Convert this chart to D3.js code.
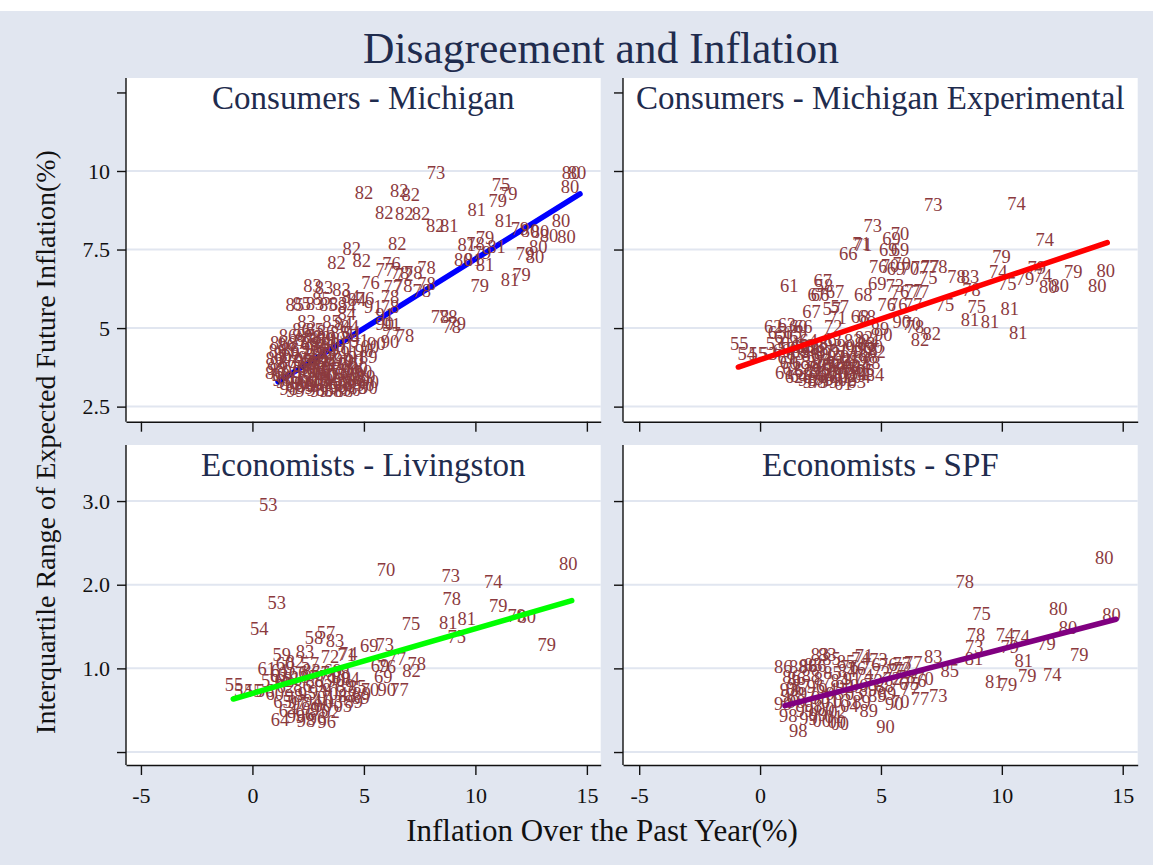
<!DOCTYPE html>
<html>
<head>
<meta charset="utf-8">
<script src="https://cdn.jsdelivr.net/npm/d3@7"></script>
<style>
  body { margin: 0; background: #fff; }
  svg { display: block; font-family: "Liberation Serif", "Times New Roman", serif; }
</style>
</head>
<body>
<div id="chart"></div>
<script>
// ---- data: [inflation over past year, interquartile range, year label] ----
const michigan = [
  [8.23,9.95,"73"],[5.00,9.32,"82"],[6.59,9.37,"82"],[7.10,9.24,"82"],[5.91,8.69,"82"],[6.81,8.66,"82"],[7.56,8.66,"82"],
  [8.20,8.26,"82"],[8.83,8.26,"81"],[10.06,8.76,"81"],[11.15,9.56,"75"],[11.47,9.29,"79"],[11.00,9.06,"79"],
  [14.29,9.95,"80"],[14.56,9.95,"80"],[14.24,9.50,"80"],[11.28,8.42,"81"],[13.84,8.42,"80"],[12.00,8.18,"79"],
  [12.45,8.12,"80"],[12.90,8.07,"80"],[13.30,7.95,"80"],[14.09,7.93,"80"],[12.82,7.61,"80"],[12.67,7.27,"80"],
  [12.22,7.38,"79"],[10.43,7.89,"79"],[9.61,7.65,"81"],[10.00,7.70,"78"],[10.95,7.59,"81"],[9.46,7.17,"80"],
  [10.43,7.01,"81"],[9.90,7.17,"81"],[10.30,7.40,"79"],[10.20,6.37,"79"],[11.55,6.53,"81"],[12.07,6.69,"79"],
  [4.45,7.54,"82"],[6.50,7.68,"82"],[3.77,7.08,"82"],[4.90,7.15,"82"],[6.24,7.06,"76"],[5.94,6.85,"77"],
  [6.62,6.77,"78"],[6.81,6.72,"72"],[7.21,6.77,"78"],[7.81,6.94,"78"],[6.29,6.32,"77"],[6.77,6.37,"78"],
  [7.59,6.21,"78"],[7.81,6.43,"78"],[6.17,6.00,"78"],[6.17,5.68,"78"],[5.42,5.68,"91"],[5.94,5.42,"91"],
  [5.94,5.16,"90"],[6.24,5.10,"91"],[6.24,4.84,"77"],[6.84,4.75,"78"],[5.57,4.52,"90"],[6.17,4.57,"90"],
  [5.20,4.09,"89"],[8.41,5.37,"78"],[8.78,5.37,"78"],[9.16,5.13,"79"],[8.94,5.05,"78"],
  [2.70,6.37,"83"],[3.21,6.30,"83"],[4.00,6.24,"83"],[2.21,5.79,"85"],[2.81,5.77,"83"],[3.40,5.74,"85"],
  [3.85,5.79,"83"],[4.23,5.68,"84"],[4.68,5.90,"84"],[5.05,5.95,"76"],[4.23,5.47,"84"],[2.43,5.21,"83"],
  [3.55,5.21,"85"],[4.07,5.16,"84"],[4.37,5.05,"84"],[1.90,5.75,"85"],[3.10,5.95,"85"],[4.40,6.00,"84"],
  [5.30,6.45,"76"],
  [1.00,4.02,"86"],[1.08,3.72,"98"],[1.18,3.88,"86"],[1.27,3.52,"98"],[0.98,3.58,"86"],[1.36,4.16,"86"],
  [1.47,3.31,"99"],[1.58,3.94,"87"],[1.69,4.33,"86"],[1.78,3.61,"98"],[1.88,3.22,"99"],[1.53,4.47,"86"],
  [1.74,4.08,"02"],[1.84,3.43,"02"],[1.99,3.77,"98"],[2.02,4.54,"87"],[1.31,3.36,"98"],[1.14,4.27,"86"],
  [1.63,3.07,"98"],[1.93,3.01,"99"],[2.12,4.23,"87"],[2.19,3.46,"95"],[2.27,3.92,"97"],[2.31,4.64,"87"],
  [2.34,3.12,"99"],[2.42,3.66,"96"],[2.47,4.07,"94"],[2.52,3.29,"00"],[2.58,4.38,"95"],[2.61,3.86,"97"],
  [2.67,3.56,"01"],[2.71,4.73,"88"],[2.76,3.21,"99"],[2.82,4.16,"93"],[2.86,3.76,"96"],[2.92,3.41,"03"],
  [2.96,4.47,"94"],[3.01,3.02,"99"],[3.03,3.97,"92"],[3.07,3.61,"00"],[3.12,4.27,"93"],[3.16,3.26,"04"],
  [3.22,3.81,"96"],[3.27,4.62,"89"],[3.31,3.52,"00"],[3.37,4.07,"92"],[3.41,3.16,"05"],[3.47,4.37,"91"],
  [3.52,3.72,"97"],[2.16,3.27,"98"],[2.29,4.01,"95"],[2.44,3.17,"99"],[2.59,4.52,"88"],[2.69,3.96,"94"],
  [2.84,3.06,"98"],[2.94,3.62,"96"],[3.09,4.71,"88"],[3.19,3.37,"01"],[3.29,4.21,"93"],[3.44,3.47,"02"],
  [2.39,4.77,"87"],[2.54,3.71,"96"],[2.74,4.36,"95"],[2.89,3.91,"95"],[3.04,3.31,"03"],[3.24,3.06,"05"],
  [3.34,3.91,"94"],[3.49,4.52,"90"],[3.58,4.11,"92"],[3.64,3.36,"05"],[3.71,3.86,"91"],[3.76,4.66,"90"],
  [3.81,3.51,"04"],[3.86,3.11,"90"],[3.91,4.31,"91"],[3.96,3.71,"89"],[4.01,3.31,"89"],[4.06,4.01,"90"],
  [4.11,3.56,"89"],[4.16,4.46,"91"],[4.21,3.16,"88"],[4.26,3.86,"90"],[4.31,3.41,"89"],[4.36,4.21,"91"],
  [4.41,3.66,"90"],[4.51,3.26,"89"],[4.56,3.96,"90"],[4.61,3.51,"89"],[4.71,3.11,"88"],[4.76,3.76,"90"],
  [4.86,3.36,"89"],[4.96,3.61,"90"],[5.06,3.21,"90"],[5.11,3.46,"89"],[5.21,3.11,"90"],[5.26,3.31,"90"],
  [3.61,3.01,"88"],[4.11,3.00,"88"],[4.46,3.05,"90"],[4.50,4.85,"91"],[4.80,4.60,"91"],[5.00,4.30,"90"],
  [5.27,4.41,"00"],[4.70,4.05,"91"],[4.40,4.70,"84"],[3.90,4.85,"85"],[3.30,4.90,"86"],[2.20,4.95,"86"],
  [1.60,4.75,"86"],[1.20,4.55,"86"],[2.80,4.95,"85"]
];

const michExp = [
  [7.16,8.92,"73"],[10.61,8.97,"74"],[4.66,8.28,"73"],[5.79,8.02,"70"],[5.44,7.86,"69"],[4.20,7.68,"71"],
  [4.26,7.66,"71"],[3.65,7.38,"66"],[5.30,7.49,"69"],[5.79,7.49,"69"],[11.78,7.81,"74"],[9.99,7.27,"79"],
  [4.89,6.96,"76"],[5.37,6.98,"70"],[5.86,7.06,"70"],[5.62,6.91,"69"],[6.20,6.91,"70"],[6.61,6.94,"77"],
  [7.03,6.96,"77"],[7.37,6.96,"78"],[6.96,6.62,"75"],[8.13,6.64,"78"],[8.68,6.64,"83"],[8.75,6.24,"78"],
  [9.85,6.80,"74"],[10.22,6.43,"75"],[10.96,6.59,"79"],[11.44,6.94,"79"],[11.69,6.66,"74"],[11.92,6.32,"80"],
  [12.40,6.37,"80"],[12.95,6.80,"79"],[14.30,6.83,"80"],[13.95,6.37,"80"],
  [8.96,5.68,"75"],[10.33,5.63,"81"],[8.68,5.26,"81"],[9.51,5.21,"81"],[10.68,4.86,"81"],[7.65,5.74,"75"],
  [1.21,6.34,"61"],[2.59,6.51,"67"],[2.64,6.37,"58"],[2.34,6.06,"67"],[2.48,6.06,"66"],[3.10,6.16,"67"],
  [4.27,6.06,"68"],[4.85,6.43,"69"],[5.58,6.34,"73"],[5.79,6.16,"76"],[6.34,6.21,"77"],[6.61,6.16,"77"],
  [5.24,5.74,"76"],[5.72,5.74,"76"],[6.34,5.74,"77"],[2.13,5.52,"67"],[2.96,5.63,"57"],[3.30,5.68,"57"],
  [3.03,5.05,"72"],[3.20,5.35,"71"],[4.13,5.37,"68"],[4.41,5.37,"68"],[5.86,5.21,"90"],[6.27,5.16,"70"],
  [6.41,5.05,"78"],[6.61,4.62,"82"],[7.10,4.84,"82"],[5.10,4.78,"90"],[4.96,5.00,"89"],
  [-0.86,4.50,"55"],[-0.55,4.18,"54"],[0.62,4.52,"53"],[0.34,4.18,"53"],[-0.10,4.20,"55"],
  [0.55,5.05,"62"],[1.10,5.10,"63"],[1.58,5.05,"60"],[1.79,5.05,"66"],[0.96,4.73,"61"],[1.24,4.52,"64"],
  [1.58,4.73,"62"],[1.10,4.36,"59"],[1.65,4.41,"62"],[1.93,4.31,"60"],[0.70,4.85,"65"],[1.35,4.85,"65"],
  [4.06,3.58,"84"],[4.75,3.51,"84"],[4.82,4.25,"82"],[4.41,4.36,"92"],
  [0.90,4.30,"60"],[1.10,4.05,"61"],[1.30,3.70,"62"],[1.45,4.20,"63"],[1.60,3.50,"64"],[1.70,3.90,"65"],
  [1.85,4.45,"66"],[1.95,3.35,"98"],[2.05,3.75,"99"],[2.10,4.15,"86"],[2.20,3.55,"97"],[2.30,3.95,"87"],
  [2.35,3.30,"98"],[2.45,4.35,"88"],[2.50,3.65,"95"],[2.60,4.05,"94"],[2.65,3.40,"96"],[2.75,3.80,"93"],
  [2.80,4.50,"89"],[2.90,3.55,"97"],[2.95,4.20,"92"],[3.05,3.35,"99"],[3.10,3.90,"93"],[3.20,3.60,"00"],
  [3.25,4.30,"91"],[3.35,3.45,"01"],[3.40,4.00,"92"],[3.50,3.70,"95"],[3.55,4.45,"90"],[3.65,3.50,"02"],
  [3.70,4.10,"91"],[3.80,3.75,"96"],[3.90,4.35,"90"],[3.95,3.55,"03"],[4.05,4.00,"89"],[4.15,3.80,"04"],
  [4.25,4.25,"89"],[4.35,3.65,"05"],[4.50,4.10,"88"],[4.60,3.90,"88"],[4.70,4.40,"90"],
  [1.40,3.45,"62"],[1.80,3.65,"63"],[2.00,4.60,"64"],[2.40,3.45,"98"],[2.70,4.25,"87"],[2.85,3.30,"99"],
  [3.00,4.65,"83"],[3.30,3.80,"94"],[3.60,3.35,"02"],[3.85,4.60,"82"],[4.20,3.45,"04"],[4.40,4.50,"83"],
  [1.20,3.90,"60"],[2.55,3.85,"86"],[3.15,4.10,"92"],[3.45,3.25,"01"],[2.15,3.30,"97"],[1.65,4.25,"65"],
  [4.00,3.30,"03"],[3.75,3.95,"95"],[2.25,4.40,"88"],[3.00,3.70,"96"],[1.00,3.60,"61"],[4.55,4.60,"84"],
  [4.30,4.70,"82"]
];

const livingston = [
  [0.71,2.96,"53"],[5.99,2.18,"70"],[8.89,2.11,"73"],[10.80,2.04,"74"],[14.16,2.25,"80"],[8.94,1.84,"78"],
  [11.03,1.75,"79"],[1.09,1.79,"53"],[8.78,1.55,"81"],[9.61,1.60,"81"],[7.11,1.54,"75"],[9.16,1.38,"75"],
  [11.85,1.63,"79"],[12.30,1.62,"80"],[13.20,1.28,"79"],[0.31,1.48,"54"],[-0.83,0.81,"55"],[-0.41,0.74,"54"],
  [0.04,0.73,"55"],[0.56,0.73,"56"],[2.76,1.37,"58"],[3.30,1.43,"57"],[3.70,1.33,"83"],[5.24,1.27,"69"],
  [5.94,1.29,"73"],[1.31,1.16,"59"],[2.36,1.20,"83"],[1.91,1.08,"82"],[2.58,1.06,"57"],[3.48,1.14,"72"],
  [4.23,1.16,"71"],[4.30,1.18,"74"],[6.47,1.12,"77"],[7.37,1.06,"78"],[7.14,0.97,"82"],[5.72,1.04,"69"],
  [6.02,1.02,"76"],[5.87,0.90,"69"],[0.64,1.00,"61"],[1.24,0.98,"61"],[1.46,1.06,"60"],[1.54,0.94,"62"],
  [5.27,0.75,"70"],[6.02,0.75,"90"],[6.60,0.75,"77"],[4.90,0.70,"89"],[1.24,0.39,"64"],[3.33,0.37,"96"],
  [0.80,0.85,"59"],[1.00,0.70,"60"],[1.20,0.92,"63"],[1.35,0.60,"65"],[1.50,0.78,"62"],[1.60,0.50,"64"],
  [1.75,0.88,"61"],[1.85,0.68,"98"],[1.95,0.42,"99"],[2.05,0.95,"66"],[2.15,0.58,"97"],[2.25,0.80,"86"],
  [2.35,0.45,"96"],[2.45,0.70,"95"],[2.55,0.90,"87"],[2.60,0.52,"99"],[2.70,0.62,"94"],[2.80,0.85,"88"],
  [2.90,0.40,"96"],[2.95,0.72,"93"],[3.05,0.95,"67"],[3.15,0.55,"00"],[3.20,0.80,"92"],[3.30,0.65,"01"],
  [3.40,0.90,"71"],[3.50,0.48,"02"],[3.55,0.75,"91"],[3.65,0.60,"03"],[3.75,0.85,"90"],[3.85,0.70,"04"],
  [3.95,0.95,"68"],[4.05,0.55,"05"],[4.15,0.80,"89"],[4.25,0.68,"88"],[4.40,0.88,"84"],[4.55,0.60,"89"],
  [4.70,0.78,"85"],[4.85,0.65,"89"],[2.00,0.60,"97"],[2.40,0.38,"98"],[3.00,0.50,"95"],[3.60,0.97,"69"],
  [1.40,0.85,"62"],[2.65,0.98,"83"],[4.00,0.90,"80"]
];

const spf = [
  [14.24,2.32,"80"],[8.47,2.04,"78"],[12.33,1.72,"80"],[9.16,1.65,"75"],[14.54,1.64,"80"],[12.74,1.49,"80"],
  [8.93,1.41,"78"],[10.13,1.41,"74"],[10.78,1.38,"74"],[8.86,1.26,"73"],[11.85,1.30,"79"],[13.20,1.16,"79"],
  [8.85,1.12,"81"],[10.91,1.09,"81"],[10.33,1.26,"79"],[12.09,0.93,"74"],[11.05,0.92,"79"],[9.69,0.84,"81"],
  [10.26,0.81,"79"],[7.16,1.14,"83"],[7.85,0.98,"85"],[7.37,0.68,"73"],[6.61,0.64,"77"],[6.20,0.76,"77"],
  [5.19,0.30,"90"],[5.55,0.58,"90"],[5.80,0.60,"70"],[0.96,1.02,"86"],[1.58,1.02,"88"],[1.99,1.03,"86"],
  [2.37,1.03,"86"],[2.48,1.16,"83"],[2.78,1.16,"83"],[4.30,1.15,"71"],[5.86,1.06,"77"],[6.34,1.07,"77"],
  [1.58,0.26,"98"],[1.17,0.44,"98"],[0.96,0.58,"99"],[1.24,0.68,"98"],[1.44,0.76,"86"],[1.51,0.88,"86"],
  [3.17,0.36,"00"],[3.30,0.34,"00"],
  [1.30,0.90,"86"],[1.50,0.60,"98"],[1.70,0.80,"87"],[1.85,0.50,"99"],[1.95,0.70,"97"],[2.10,0.92,"88"],
  [2.20,0.55,"98"],[2.30,0.78,"96"],[2.40,0.45,"99"],[2.50,0.65,"95"],[2.60,0.88,"87"],[2.70,0.52,"00"],
  [2.80,0.75,"94"],[2.90,0.60,"01"],[3.00,0.95,"85"],[3.10,0.70,"93"],[3.20,0.48,"02"],[3.30,0.85,"84"],
  [3.40,0.62,"03"],[3.50,0.78,"92"],[3.60,0.98,"84"],[3.70,0.55,"04"],[3.80,0.88,"91"],[3.90,0.70,"05"],
  [4.00,1.00,"76"],[4.10,0.80,"90"],[4.20,0.60,"89"],[4.30,0.92,"74"],[4.45,0.75,"89"],[4.60,1.05,"76"],
  [4.70,0.85,"72"],[4.85,0.68,"89"],[5.00,0.95,"72"],[5.15,0.80,"88"],[5.30,1.05,"76"],[5.45,0.88,"72"],
  [5.60,0.98,"77"],[5.75,0.82,"76"],[5.90,1.00,"72"],[6.05,0.90,"78"],[6.20,0.82,"75"],[6.50,0.85,"76"],
  [6.80,0.88,"70"],[2.00,0.40,"99"],[2.55,0.38,"00"],[3.05,0.42,"01"],[4.50,0.50,"89"],[3.55,1.08,"85"],
  [2.20,1.05,"83"],[1.20,0.75,"93"],[2.95,1.12,"85"],[4.15,1.12,"74"],[3.70,1.02,"76"],[5.25,0.70,"89"],
  [4.90,1.10,"73"]
];

// fitted lines, read as end points
const michFit = [[1.15,3.29],[14.69,9.27]];
const michExpFit = [[-0.90,3.76],[14.36,7.72]];
const livFit = [[-0.86,0.634],[14.32,1.81]];
const spfFit = [[1.03,0.554],[14.72,1.587]];

// axis ticks
const xTicks = [-5, 0, 5, 10, 15];
const topYTicks = [2.5, 5, 7.5, 10, 12.5];
const topYLabels = ["2.5", "5", "7.5", "10", ""];
const topYGrid = [2.5, 5, 7.5, 10];
const botYTicks = [0, 1, 2, 3];
const botYLabels = ["", "1.0", "2.0", "3.0"];
const botYGrid = [0, 1, 2, 3];

// ---- layout ----
const W = 1153, H = 865;
const bg = "#E1E6F0";
const navy = "#1F2C4E";
const labelColor = "#8B3A3E";

const svg = d3.select("#chart").append("svg").attr("width", W).attr("height", H);

svg.append("rect").attr("x", 0).attr("y", 11).attr("width", W).attr("height", H - 11).attr("fill", bg);

svg.append("text")
  .attr("x", 601).attr("y", 63)
  .attr("text-anchor", "middle")
  .attr("font-size", 43.5)
  .attr("fill", navy)
  .text("Disagreement and Inflation");

svg.append("text")
  .attr("transform", "translate(55,442) rotate(-90)")
  .attr("text-anchor", "middle")
  .attr("font-size", 28)
  .attr("fill", "#111")
  .text("Interquartile Range of Expected Future Inflation(%)");

svg.append("text")
  .attr("x", 602).attr("y", 841)
  .attr("text-anchor", "middle")
  .attr("font-size", 31)
  .attr("fill", "#111")
  .text("Inflation Over the Past Year(%)");

const panels = [
  { title: "Consumers - Michigan", data: michigan, fit: michFit, color: "#0000ff", lineOnTop: false,
    left: 126, right: 600.7, top: 78, bottom: 421.7, yDomain: [2.02, 12.96],
    yTicks: topYTicks, yLabels: topYLabels, yGrid: topYGrid, showY: true, showX: false },
  { title: "Consumers - Michigan Experimental", data: michExp, fit: michExpFit, color: "#ff0000", lineOnTop: true,
    left: 623, right: 1137.7, top: 78, bottom: 421.7, yDomain: [2.02, 12.96],
    yTicks: topYTicks, yLabels: topYLabels, yGrid: topYGrid, showY: false, showX: false },
  { title: "Economists - Livingston", data: livingston, fit: livFit, color: "#00ff00", lineOnTop: true,
    left: 126, right: 600.7, top: 445, bottom: 765, yDomain: [-0.155, 3.67],
    yTicks: botYTicks, yLabels: botYLabels, yGrid: botYGrid, showY: true, showX: true },
  { title: "Economists - SPF", data: spf, fit: spfFit, color: "#800080", lineOnTop: true,
    left: 623, right: 1137.7, top: 445, bottom: 765, yDomain: [-0.155, 3.67],
    yTicks: botYTicks, yLabels: botYLabels, yGrid: botYGrid, showY: false, showX: true }
];

panels.forEach(renderPanel);

function renderPanel(p) {
  const x = d3.scaleLinear().domain([-5.67, 15.62]).range([p.left, p.right]);
  const y = d3.scaleLinear().domain(p.yDomain).range([p.bottom, p.top]);
  const g = svg.append("g");

  g.append("rect")
    .attr("x", p.left).attr("y", p.top)
    .attr("width", p.right - p.left).attr("height", p.bottom - p.top)
    .attr("fill", "#fff");

  // gridlines
  g.selectAll(".grid")
    .data(p.yGrid)
    .enter()
    .append("line")
    .attr("x1", p.left).attr("x2", p.right)
    .attr("y1", (d) => y(d)).attr("y2", (d) => y(d))
    .attr("stroke", bg)
    .attr("stroke-width", 2);

  const line = d3.line().x((d) => x(d[0])).y((d) => y(d[1]));
  const drawFit = () =>
    g.append("path")
      .attr("d", line(p.fit))
      .attr("fill", "none")
      .attr("stroke", p.color)
      .attr("stroke-width", 5.5)
      .attr("stroke-linecap", "round");

  if (!p.lineOnTop) drawFit();

  // year labels as markers
  g.selectAll(".mlab")
    .data(p.data)
    .enter()
    .append("text")
    .attr("x", (d) => x(d[0]))
    .attr("y", (d) => y(d[1]))
    .attr("text-anchor", "middle")
    .attr("dy", "0.35em")
    .attr("font-size", 18.5)
    .attr("fill", labelColor)
    .text((d) => d[2]);

  if (p.lineOnTop) drawFit();

  // panel title
  g.append("text")
    .attr("x", (p.left + p.right) / 2)
    .attr("y", p.top + 31)
    .attr("text-anchor", "middle")
    .attr("font-size", 33)
    .attr("fill", navy)
    .text(p.title);

  // y axis
  const yAxis = d3.axisLeft(y)
    .tickValues(p.yTicks)
    .tickSize(9)
    .tickSizeOuter(0)
    .tickPadding(7)
    .tickFormat((d, i) => (p.showY ? p.yLabels[i] : ""));
  const ya = g.append("g")
    .attr("transform", `translate(${p.left},0)`)
    .call(yAxis);
  ya.select(".domain").attr("d", `M0,${p.top}V${p.bottom}`);

  // x axis
  const xAxis = d3.axisBottom(x)
    .tickValues(xTicks)
    .tickSize(10)
    .tickSizeOuter(0)
    .tickPadding(12)
    .tickFormat((d) => (p.showX ? d : ""));
  const xa = g.append("g")
    .attr("transform", `translate(0,${p.bottom})`)
    .call(xAxis);

  [ya, xa].forEach((a) => {
    a.attr("font-family", null).attr("font-size", 22);
    a.selectAll("text").attr("fill", "#111");
    a.selectAll("line, path").attr("stroke", "#111").attr("stroke-width", 1.4);
  });
}
</script>
</body>
</html>
